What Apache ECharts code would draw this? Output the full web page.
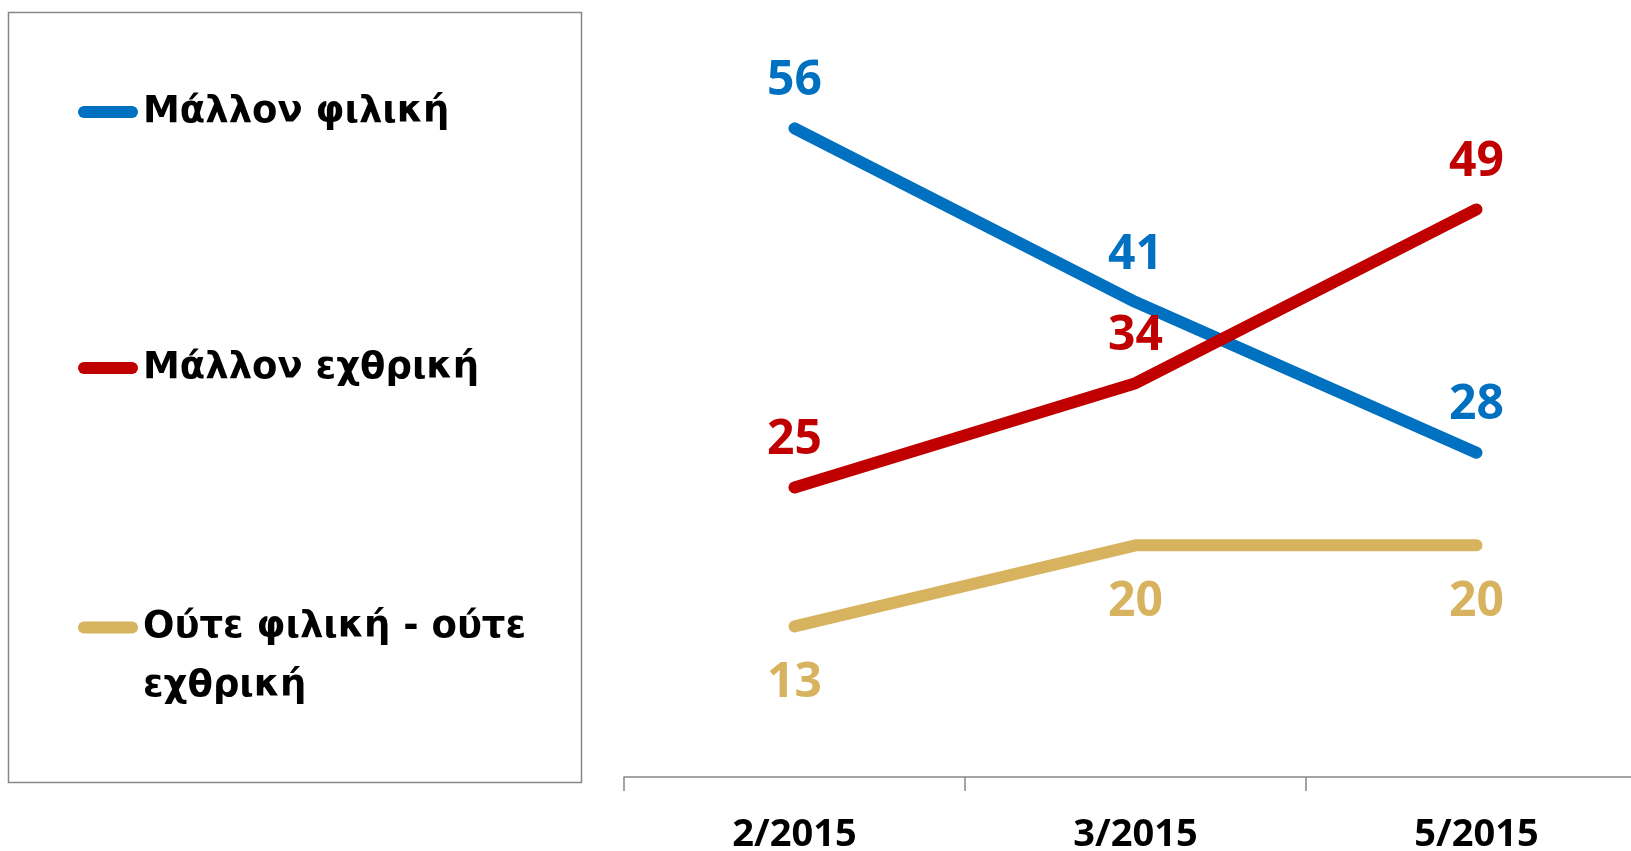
<!DOCTYPE html>
<html>
<head>
<meta charset="utf-8">
<script src="https://cdn.jsdelivr.net/npm/echarts@6/dist/echarts.min.js"></script>
<style>
  html, body { margin: 0; padding: 0; background: #ffffff; }
  #chart { width: 1631px; height: 851px; }
</style>
</head>
<body>
<div id="chart"></div>
<script>
// Survey periods (x axis)
const periods = ['2/2015', '3/2015', '5/2015'];

// Series names
const nameFriendly = 'Μάλλον φιλική';
const nameHostile = 'Μάλλον εχθρική';
const nameNeither = 'Ούτε φιλική - ούτε εχθρική';

// Values (%)
const friendly = [56, 41, 28];
const hostile = [25, 34, 49];
const neither = [13, 20, 20];

const BLUE = '#0070C0';
const RED = '#C00000';
const GOLD = '#D8B35F';

const numFont = '"Open Sans", "Noto Sans", sans-serif';
const legendFont = '"DejaVu Sans", "Noto Sans", sans-serif';

const chart = echarts.init(document.getElementById('chart'), null, { renderer: 'canvas' });

// Rounded bar used as legend key
const capsule = 'path://M6,0H54A6,6,0,0,1,54,12H6A6,6,0,0,1,6,0Z';

function makeSeries(name, data, color, labelPos, dist) {
  return {
    name: name,
    type: 'line',
    data: data,
    symbol: 'circle',
    symbolSize: 2,
    itemStyle: { color: color },
    lineStyle: { color: color, width: 12, cap: 'round', join: 'round' },
    label: {
      show: true,
      position: labelPos,
      distance: dist,
      verticalAlign: 'middle',
      color: color,
      fontFamily: numFont,
      fontWeight: 'bold',
      fontSize: 48
    },
    emphasis: { disabled: true },
    animation: false
  };
}

function makeLegend(name, top, extra) {
  return Object.assign({
    data: [name],
    orient: 'vertical',
    left: 78,
    top: top,
    padding: 0,
    icon: capsule,
    itemWidth: 60,
    itemHeight: 12,
    selectedMode: false
  }, extra);
}

const legendText = {
  color: '#000000',
  fontFamily: legendFont,
  fontWeight: 'bold',
  fontSize: 37
};

chart.setOption({
  backgroundColor: '#ffffff',
  animation: false,
  graphic: [{
    type: 'rect',
    shape: { x: 8.5, y: 12.5, width: 573, height: 770 },
    style: { fill: 'none', stroke: '#878787', lineWidth: 1.5 },
    silent: true
  }],
  legend: [
    makeLegend(nameFriendly, 92, { textStyle: Object.assign({ lineHeight: 40 }, legendText) }),
    makeLegend(nameHostile, 348, { textStyle: Object.assign({ lineHeight: 40 }, legendText) }),
    // wrapped label: a leading blank line keeps the key level with the first text line
    makeLegend(nameNeither, 539, {
      formatter: function () { return ' \nΟύτε φιλική - ούτε\nεχθρική'; },
      textStyle: Object.assign({ lineHeight: 59 }, legendText)
    })
  ],
  // the last category band runs past the right edge of the canvas
  grid: { left: 624, width: 1023, top: 82, bottom: 74, containLabel: false, outerBoundsMode: 'none' },
  xAxis: {
    type: 'category',
    data: periods,
    boundaryGap: true,
    axisLine: { show: true, lineStyle: { color: '#878787', width: 1.5 } },
    axisTick: { show: true, length: 14, alignWithLabel: false, lineStyle: { color: '#878787', width: 1.5 } },
    axisLabel: {
      margin: 58,
      verticalAlign: 'middle',
      color: '#000000',
      fontFamily: numFont,
      fontWeight: 'bold',
      fontSize: 38
    },
    splitLine: { show: false }
  },
  yAxis: {
    type: 'value',
    min: 0,
    max: 60,
    show: false,
    splitLine: { show: false }
  },
  series: [
    makeSeries(nameFriendly, friendly, BLUE, 'top', 46),
    makeSeries(nameHostile, hostile, RED, 'top', 46),
    makeSeries(nameNeither, neither, GOLD, 'bottom', 56)
  ]
});
</script>
</body>
</html>
